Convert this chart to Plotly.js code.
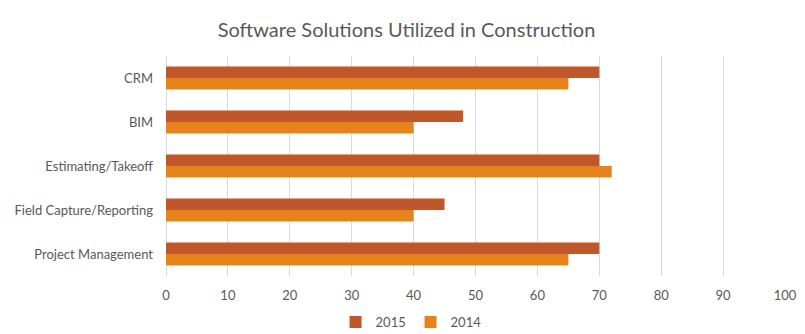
<!DOCTYPE html>
<html>
<head>
<meta charset="utf-8">
<script src="https://cdn.plot.ly/plotly-3.0.1.min.js"></script>
<style>html,body{margin:0;padding:0;background:#fff}#chart{width:805px;height:334px}</style>
</head>
<body>
<div id="chart"></div>
<script>
var categories = ["CRM", "BIM", "Estimating/Takeoff", "Field Capture/Reporting", "Project Management"];
var values2015 = [70, 48, 70, 45, 70];
var values2014 = [65, 40, 72, 40, 65];
var xTicks = [0, 10, 20, 30, 40, 50, 60, 70, 80, 90, 100];

var font = "Lato, 'Open Sans', sans-serif";
var traces = [
  {type: "bar", orientation: "h", name: "2015", y: categories, x: values2015,
   marker: {color: "#C0572B"}, hoverinfo: "x+y"},
  {type: "bar", orientation: "h", name: "2014", y: categories, x: values2014,
   marker: {color: "#E6841B"}, hoverinfo: "x+y"}
];
var layout = {
  width: 805, height: 334,
  margin: {l: 166, r: 20, t: 56, b: 58},
  paper_bgcolor: "#fff", plot_bgcolor: "#fff",
  barmode: "group", bargap: 0.48, bargroupgap: 0,
  title: {text: "Software Solutions Utilized in Construction", x: 0.505, xref: "container", xanchor: "center",
          y: 1 - 30/334, yanchor: "middle", yref: "container",
          font: {family: font, size: 20, color: "#595959"}},
  xaxis: {range: [0, 100], tickvals: xTicks, ticktext: xTicks.map(String),
          showgrid: true, gridcolor: "#d9d9d9", gridwidth: 1, zeroline: true, zerolinecolor: "#d9d9d9",
          showline: false, ticks: "", ticklabelstandoff: 10,
          tickfont: {family: font, size: 13, color: "#595959"}, fixedrange: true},
  yaxis: {type: "category", autorange: "reversed", showgrid: false, zeroline: false, showline: false,
          ticks: "", ticklabelstandoff: 12,
          tickfont: {family: font, size: 13, color: "#595959"}, fixedrange: true},
  showlegend: true,
  legend: {orientation: "h", xref: "container", yref: "container", x: 0.51, xanchor: "center",
           y: 1 - 322/334, yanchor: "middle", font: {family: font, size: 13, color: "#595959"},
           itemwidth: 30, entrywidth: 30, entrywidthmode: "pixels", traceorder: "normal"}
};
Plotly.newPlot("chart", traces, layout, {displayModeBar: false, staticPlot: true});
</script>
</body>
</html>
